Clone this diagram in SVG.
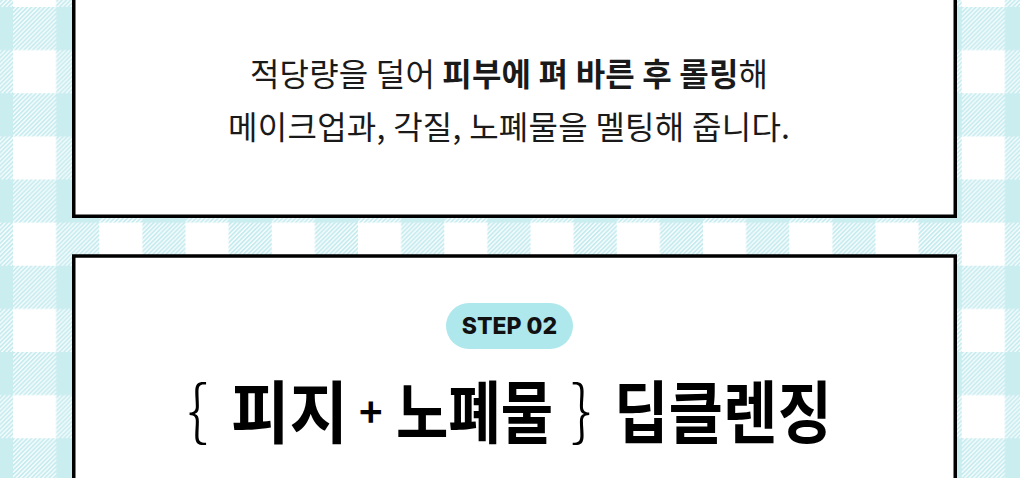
<svg xmlns="http://www.w3.org/2000/svg" width="1020" height="478" viewBox="0 0 1020 478">
<style>
.box{fill:#fff;stroke:#000;stroke-width:3.5}
.kr{font-family:"Noto Sans CJK KR","Noto Sans",sans-serif;fill:#1a1a1a}
.body{font-size:32px;font-weight:400}
.b{font-weight:700}
.title{font-size:68px;font-weight:700;fill:#000}
.brace{font-family:"Noto Sans CJK KR",sans-serif;font-size:66px;font-weight:300;fill:#000}
.step{font-family:Inter,"Liberation Sans",sans-serif;font-size:23px;font-weight:800;fill:#111}
</style>
<defs>
<pattern id="hatch" patternUnits="userSpaceOnUse" width="3.1" height="3.1" patternTransform="rotate(45)">
<rect width="3.1" height="3.1" fill="#fff"/>
<rect width="1.8" height="3.1" fill="#c3eaee"/>
</pattern>
<pattern id="gingham" patternUnits="userSpaceOnUse" x="13" y="7" width="86.25" height="86.25">
<rect width="86.25" height="86.25" fill="#fff"/>
<rect x="43.125" y="0" width="43.125" height="86.25" fill="url(#hatch)"/>
<rect x="0" y="0" width="86.25" height="43.125" fill="url(#hatch)"/>
<rect x="43.125" y="0" width="43.125" height="43.125" fill="#caedf0"/>
</pattern>
</defs>
<rect id="background" width="1020" height="478" fill="url(#gingham)"/>
<g id="box1">
<rect class="box" x="73.75" y="-10" width="881.5" height="226.25"/>
<text class="kr body" x="250" y="86" textLength="518" lengthAdjust="spacing">적당량을 덜어 <tspan class="b">피부에 펴 바른 후 롤링</tspan>해</text>
<text class="kr body" x="228" y="139" textLength="562" lengthAdjust="spacing">메이크업과, 각질, 노폐물을 멜팅해 줍니다.</text>
</g>
<g id="box2">
<rect class="box" x="73.75" y="256" width="881.5" height="240"/>
<g id="step">
<rect x="446" y="303" width="127" height="46" rx="23" fill="#aee8ec"/>
<text class="step" x="509.5" y="334" text-anchor="middle">STEP 02</text>
</g>
<g id="title">
<text class="brace" x="187" y="434">{</text>
<text class="kr title" x="231" y="438" textLength="117" lengthAdjust="spacingAndGlyphs">피지</text>
<text class="kr title" x="359" y="427" style="font-size:40px">+</text>
<text class="kr title" x="396" y="438" textLength="157" lengthAdjust="spacingAndGlyphs">노폐물</text>
<text class="brace" x="571" y="434">}</text>
<text class="kr title" x="614" y="438" textLength="218" lengthAdjust="spacingAndGlyphs">딥클렌징</text>
</g>
</g>
</svg>
